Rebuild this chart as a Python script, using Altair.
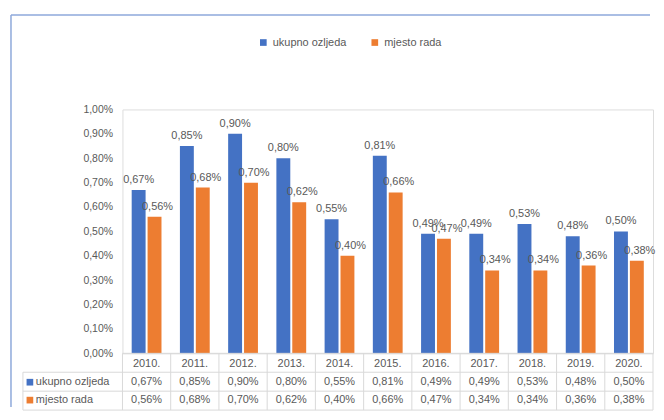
import altair as alt
import pandas as pd

years = ["2010.", "2011.", "2012.", "2013.", "2014.", "2015.", "2016.", "2017.", "2018.", "2019.", "2020."]
series = ["ukupno ozljeda", "mjesto rada"]
ukupno = [0.67, 0.85, 0.90, 0.80, 0.55, 0.81, 0.49, 0.49, 0.53, 0.48, 0.50]
mjesto = [0.56, 0.68, 0.70, 0.62, 0.40, 0.66, 0.47, 0.34, 0.34, 0.36, 0.38]
colors = ["#4472C4", "#ED7D31"]
y_ticks = [0.0, 0.1, 0.2, 0.3, 0.4, 0.5, 0.6, 0.7, 0.8, 0.9, 1.0]

FONT = "Liberation Sans"
TXT = "#595959"
GRID = "#D9D9D9"
W, H = 533, 245


def fmt(v):
    return f"{v:.2f}".replace(".", ",") + "%"


rows = []
for s, vals in zip(series, [ukupno, mjesto]):
    for y, v in zip(years, vals):
        rows.append({"year": y, "series": s, "value": v, "label": fmt(v)})
df = pd.DataFrame(rows)

table_rows = [{"year": y, "row": "year", "text": y} for y in years]
table_rows += [{"year": r["year"], "row": r["series"], "text": r["label"]} for r in rows]
tdf = pd.DataFrame(table_rows)

row_domain = ["year"] + series
xs = alt.Scale(domain=years, paddingInner=0, paddingOuter=0)
xo = alt.Scale(domain=series, paddingInner=0.125, paddingOuter=0.58)
cs = alt.Scale(domain=series, range=colors)
ys = alt.Scale(domain=[0, 1], nice=False)
y_axis = alt.Axis(
    values=y_ticks, tickCount=11,
    labelExpr="replace(format(datum.value, '.2f'), '.', ',') + '%'",
    grid=False, ticks=False, domain=False, title=None, labelOverlap=False,
    labelColor=TXT, labelFontSize=10.5, labelFont=FONT, labelPadding=10,
)

base = alt.Chart(df)

bars = base.mark_bar().encode(
    x=alt.X("year:N", scale=xs, axis=None, sort=years),
    xOffset=alt.XOffset("series:N", scale=xo, sort=series),
    y=alt.Y("value:Q", scale=ys, axis=y_axis),
    color=alt.Color(
        "series:N", scale=cs, sort=series,
        legend=alt.Legend(
            title=None, orient="none", direction="horizontal",
            legendX=136, legendY=-73, symbolType="square", symbolSize=45,
            labelFontSize=11, labelFont=FONT, labelColor=TXT, columnPadding=22,
            symbolStrokeWidth=0,
        ),
    ),
)

labels_u = alt.Chart(df[df.series == series[0]]).mark_text(
    baseline="bottom", dy=-5, font=FONT, fontSize=11, color=TXT
).encode(
    x=alt.X("year:N", scale=xs, axis=None, sort=years),
    xOffset=alt.XOffset("series:N", scale=xo, sort=series),
    y=alt.Y("value:Q", scale=ys, axis=y_axis),
    text="label:N",
)
labels_m = alt.Chart(df[df.series == series[1]]).mark_text(
    baseline="bottom", dy=-5, dx=3, font=FONT, fontSize=11, color=TXT
).encode(
    x=alt.X("year:N", scale=xs, axis=None, sort=years),
    xOffset=alt.XOffset("series:N", scale=xo, sort=series),
    y=alt.Y("value:Q", scale=ys, axis=y_axis),
    text="label:N",
)

chart_main = alt.layer(bars, labels_u, labels_m)

trow_scale = alt.Scale(type="point", domain=row_domain, range=[256, 292], padding=0)

table_text = alt.Chart(tdf).mark_text(font=FONT, fontSize=11, color=TXT, baseline="middle").encode(
    x=alt.X("year:N", scale=xs, axis=None, sort=years),
    y=alt.Y("row:N", scale=trow_scale, axis=None),
    text="text:N",
)

sdf = pd.DataFrame({"series": series})
row_names = alt.Chart(sdf).mark_text(font=FONT, fontSize=11, color=TXT, align="left", baseline="middle").encode(
    x=alt.value(-87),
    y=alt.Y("series:N", scale=trow_scale, axis=None),
    text="series:N",
)
row_squares = alt.Chart(sdf).mark_square(size=45, opacity=1).encode(
    x=alt.value(-93),
    y=alt.Y("series:N", scale=trow_scale, axis=None),
    color=alt.Color("series:N", scale=cs, legend=None),
)

bscale = alt.Scale(domain=[0, 3], range=[245, 302], nice=False, zero=False)
hdf_top = pd.DataFrame({"b": [0]})
hdf_rows = pd.DataFrame({"b": [1, 2, 3]})
h_top = alt.Chart(hdf_top).mark_rule(color=GRID).encode(
    x=alt.value(0), x2=alt.value(W), y=alt.Y("b:Q", scale=bscale, axis=None)
)
h_rows = alt.Chart(hdf_rows).mark_rule(color=GRID).encode(
    x=alt.value(-100), x2=alt.value(W), y=alt.Y("b:Q", scale=bscale, axis=None)
)
vdf = pd.DataFrame({"year": years, "t": [0] * len(years), "u": [3] * len(years)})
v_start = alt.Chart(vdf).mark_rule(color=GRID).encode(
    x=alt.X("year:N", scale=xs, axis=None, bandPosition=0, sort=years),
    y=alt.Y("t:Q", scale=bscale, axis=None), y2="u:Q",
)
v_end = alt.Chart(vdf.tail(1)).mark_rule(color=GRID).encode(
    x=alt.X("year:N", scale=xs, axis=None, bandPosition=1, sort=years),
    y=alt.Y("t:Q", scale=bscale, axis=None), y2="u:Q",
)
v_left = alt.Chart(pd.DataFrame({"t": [1], "u": [3]})).mark_rule(color=GRID).encode(
    x=alt.value(-100), y=alt.Y("t:Q", scale=bscale, axis=None), y2="u:Q",
)

frame_top = alt.Chart(pd.DataFrame({"a": [0]})).mark_rule(color="#8EA9DB", strokeWidth=1.5).encode(
    x=alt.value(-112), x2=alt.value(530), y=alt.value(-95)
)
frame_left = alt.Chart(pd.DataFrame({"a": [0]})).mark_rule(color="#8EA9DB", strokeWidth=1.5).encode(
    x=alt.value(-112), y=alt.value(-95), y2=alt.value(299)
)

chart = alt.layer(
    chart_main, table_text, row_names, row_squares,
    h_top, h_rows, v_start, v_end, v_left, frame_top, frame_left,
).resolve_scale(y="independent").properties(
    width=W, height=H, padding={"left": 2, "top": 5, "right": 0, "bottom": 0}
).configure_view(stroke=None).configure(background="white")

chart.save("out.html", embed_options={"renderer": "svg", "actions": False})
